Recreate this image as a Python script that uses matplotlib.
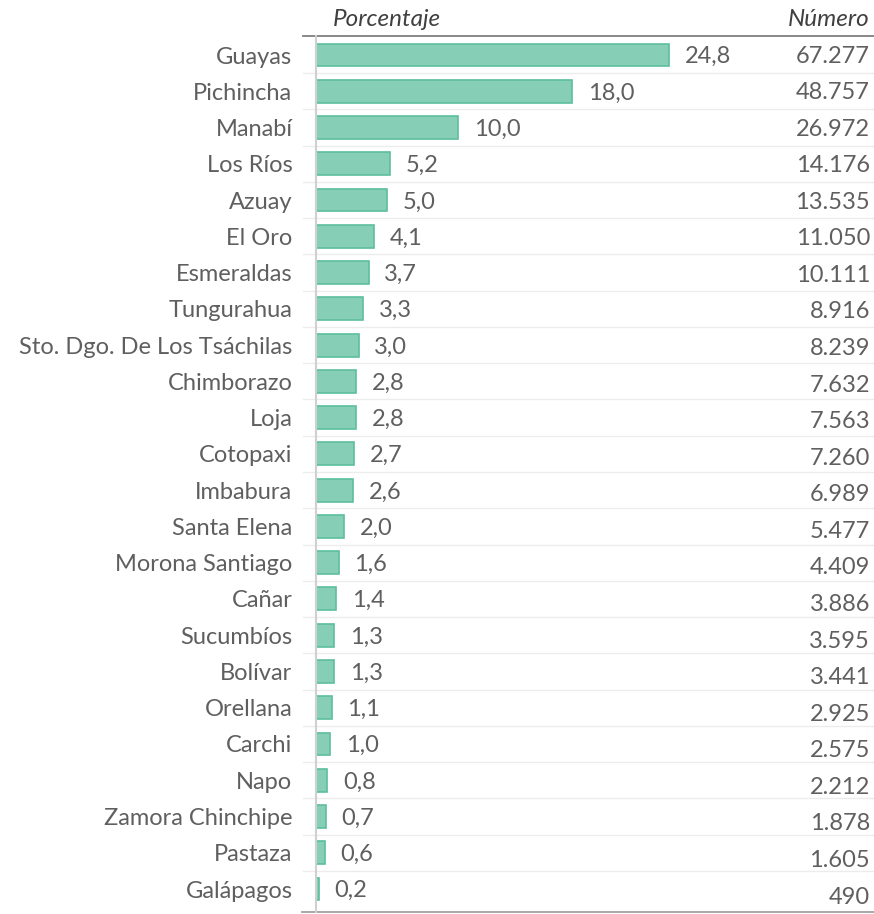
import matplotlib
matplotlib.use('Agg')
import matplotlib.pyplot as plt

plt.rcParams['font.family'] = ['Lato', 'DejaVu Sans']

provincias = ['Guayas', 'Pichincha', 'Manabí', 'Los Ríos', 'Azuay', 'El Oro',
              'Esmeraldas', 'Tungurahua', 'Sto. Dgo. De Los Tsáchilas',
              'Chimborazo', 'Loja', 'Cotopaxi', 'Imbabura', 'Santa Elena',
              'Morona Santiago', 'Cañar', 'Sucumbíos', 'Bolívar', 'Orellana',
              'Carchi', 'Napo', 'Zamora Chinchipe', 'Pastaza', 'Galápagos']
porcentaje = [24.8, 18.0, 10.0, 5.2, 5.0, 4.1, 3.7, 3.3, 3.0, 2.8, 2.8, 2.7,
              2.6, 2.0, 1.6, 1.4, 1.3, 1.3, 1.1, 1.0, 0.8, 0.7, 0.6, 0.2]
numero = [67277, 48757, 26972, 14176, 13535, 11050, 10111, 8916, 8239, 7632,
          7563, 7260, 6989, 5477, 4409, 3886, 3595, 3441, 2925, 2575, 2212,
          1878, 1605, 490]

gris = '#5f5f5f'
fs = 17
W, H = 874, 914
fig = plt.figure(figsize=(W / 100, H / 100), dpi=100)
ax = fig.add_axes([316 / W, 2 / H, (W - 316) / W, (912 - 36) / H])

y = list(range(len(provincias)))
ax.barh(y, porcentaje, height=0.63, color='#86CEB6', edgecolor='#5CBF9B', linewidth=1.2)
ax.set_xlim(0, (W - 316) / 14.23)
ax.set_ylim(len(provincias) - 1 + 0.634, -0.524)

for i, v in enumerate(porcentaje):
    ax.text(v + 1.1, i + 0.05, f'{v:.1f}'.replace('.', ','), va='center', ha='left',
            fontsize=fs, color=gris)

ax.set_yticks(y)
ax.set_yticklabels(provincias, fontsize=fs, color=gris)
ax.tick_params(axis='y', length=0, pad=17)
ax.set_xticks([])
for s in ['top', 'right', 'bottom']:
    ax.spines[s].set_visible(False)
ax.spines['left'].set_color('#d0d0d0')
ax.spines['left'].set_linewidth(1.5)

# separadores de filas
tr = ax.get_yaxis_transform()
x0 = -13 / (W - 316)
for i in range(1, len(provincias)):
    ax.plot([x0, 1], [i - 0.5, i - 0.5], transform=tr, color='#ececec', lw=1, clip_on=False, zorder=0)
ax.plot([x0, 1], [-0.524, -0.524], transform=tr, color='#7f7f7f', lw=1.3, clip_on=False)
ax.plot([x0 - 0.002, 1], [len(provincias) - 1 + 0.634] * 2, transform=tr, color='#a0a0a0', lw=1.3, clip_on=False)

# columna de números
ax2 = ax.twinx()
ax2.set_ylim(len(numero) - 1 + 0.41, -0.547)
ax2.axis('off')
for i, n in enumerate(numero):
    ax2.text(0.993, i, f'{n:,}'.replace(',', '.'), transform=ax2.get_yaxis_transform(),
             ha='right', va='center', fontsize=fs, color=gris)

fig.text(333 / W, 1 - 20 / H, 'Porcentaje', fontsize=17.5, style='italic', color='#404040', va='center', ha='left')
fig.text(870 / W, 1 - 20 / H, 'Número', fontsize=17.5, style='italic', color='#404040', va='center', ha='right')

fig.savefig('out.png', dpi=100)
